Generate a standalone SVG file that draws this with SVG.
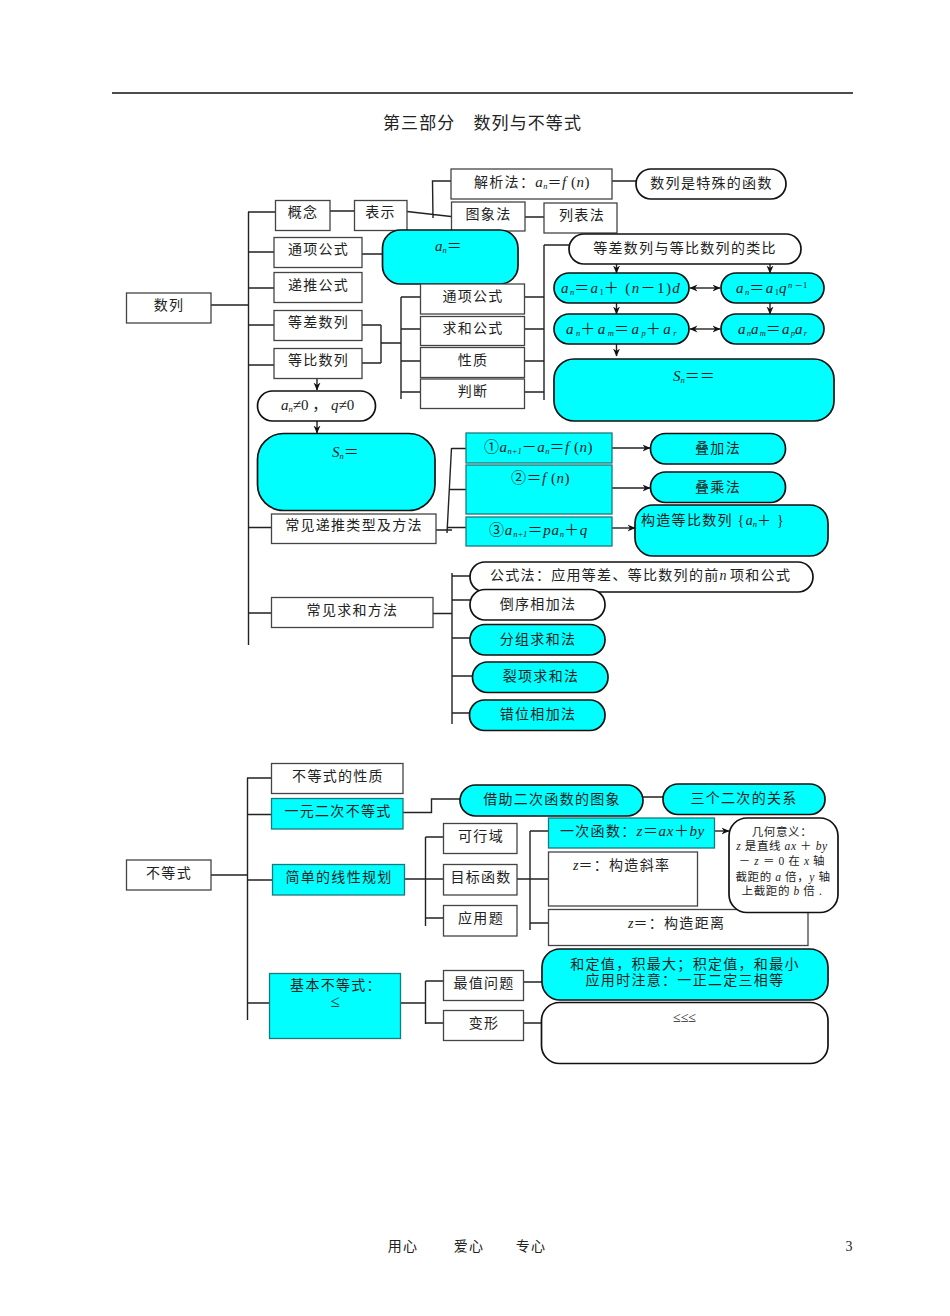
<svg xmlns="http://www.w3.org/2000/svg" width="950" height="1316" viewBox="0 0 950 1316">
<defs>
<marker id="arr" viewBox="0 0 8 8" refX="7.5" refY="4" markerWidth="8" markerHeight="8" markerUnits="userSpaceOnUse" orient="auto-start-reverse"><path d="M0,0.5 L8,4 L0,7.5 L2.5,4 Z" fill="#111"/></marker>
</defs>
<style>
text{font-family:"Liberation Serif","Noto Sans CJK SC",serif;font-size:14px;fill:#222;letter-spacing:1.3px}
.m{text-anchor:middle}
.b{fill:#fff;stroke:#444;stroke-width:1.3}
.bc{fill:#00ffff;stroke:#1a7a7a;stroke-width:1.3}
.p{fill:#fff;stroke:#111;stroke-width:1.7}
.pc{fill:#00ffff;stroke:#111;stroke-width:1.7}
.c path{fill:none;stroke:#222;stroke-width:1.4}
.a{marker-end:url(#arr)}
.d{marker-start:url(#arr);marker-end:url(#arr)}
.i{font-style:italic}
.s{font-size:8.5px;letter-spacing:0}
.t{font-size:11.5px;letter-spacing:.6px}
.n{letter-spacing:0}
.f{font-size:15px}
</style>
<rect width="950" height="1316" fill="#fff"/>
<path d="M112,93H853" stroke="#111" stroke-width="1.6" fill="none"/>
<text id="title" x="482.500" y="129" class="m" style="font-size:17px;letter-spacing:1.1px">第三部分　数列与不等式</text>

<g id="connectors" class="c">
<path d="M248.500,212V645M248,212H275M248,252H274M248,288H274M248,325H274M248,365H274M248,527.500H271M248,613H271M211,305H248"/>
<path d="M330,211H354M407,211.500L451,216.500M433,218L432.500,181H451M525,217H544M612,181H636M357,254H382"/>
<path d="M361,325H381M362,363H381M381,325V363M381,343H401M401,297V399M401,297H421M401,329H421M401,361H421M401,392H421"/>
<path d="M525,297H544M525,329H544M525,361H544M525,392H544M544,245V400M544,245H569"/>
<path class="a" d="M616.500,264V273"/><path class="a" d="M770,264V273"/><path class="a" d="M616.500,303V314"/><path class="a" d="M770,303V314"/><path class="a" d="M616.500,344V356"/>
<path class="d" d="M690,288H720"/><path class="d" d="M690,329H720"/>
<path class="a" d="M317,378V390"/><path class="a" d="M317,421V433"/>
<path d="M436,530H452M451.500,448L447,533M451.500,448.500H466M449,489.500H466M447,527.500H466"/>
<path class="a" d="M612,448H650"/><path class="a" d="M612,488H650"/><path class="a" d="M612,528H635"/>
<path d="M433,613.500H452M452,573V724M452,576H470M452,600H470M452,638H470M452,676H472M452,713H470"/>
<path d="M247.500,778V1020M247,778H271M247,814.500H271M247,880H272M247,1003H269M211,875H247"/>
<path d="M403,812.500H431.500V799H460M643,797H663"/>
<path d="M404,879H443M425.500,837V926M425.500,837H443M425.500,918H443"/>
<path d="M517,879H548M530,831V930M530,831H548M530,923H548"/>
<path class="a" d="M714,831H729"/>
<path d="M400,1003H425.500M425.500,981V1024M425.500,981H443M425.500,1023H443M523,982H542M523,1023H541"/>
</g>

<g id="n-shulie"><rect class="b" x="126.500" y="293" width="84.500" height="30"/><text x="169" y="310" class="m">数列</text></g>
<g id="n-gainian"><rect class="b" x="275.500" y="200.500" width="54.500" height="30"/><text x="303" y="217" class="m">概念</text></g>
<g id="n-biaoshi"><rect class="b" x="354.500" y="200.500" width="52.500" height="30"/><text x="380.500" y="217" class="m">表示</text></g>
<g id="n-jiexi"><rect class="b" x="451" y="169" width="161" height="30"/><text x="474" y="187">解析法：<tspan class="i f" style="letter-spacing:.5px">a</tspan><tspan class="i s" dy="2">n</tspan><tspan dy="-2" style="letter-spacing:.5px">＝</tspan><tspan class="i f" style="letter-spacing:.5px">f </tspan><tspan class="f" style="letter-spacing:.5px">(</tspan><tspan class="i f" style="letter-spacing:.5px">n</tspan><tspan class="f n">)</tspan></text></g>
<g id="n-tuxiang"><rect class="b" x="451.500" y="202" width="73.500" height="29"/><text x="488.500" y="219" class="m">图象法</text></g>
<g id="n-liebiao"><rect class="b" x="544" y="203" width="73" height="30"/><text x="582" y="220" class="m">列表法</text></g>
<g id="n-teshu"><rect class="p" x="636" y="169" width="150" height="30" rx="15"/><text x="711.500" y="188" class="m">数列是特殊的函数</text></g>
<g id="n-tx1"><rect class="b" x="274" y="237.500" width="88" height="30"/><text x="318.500" y="254" class="m">通项公式</text></g>
<g id="n-an"><rect class="pc" x="382.500" y="230" width="135.500" height="54" rx="18"/><text x="435" y="251" class="f"><tspan class="i n">a</tspan><tspan class="i s" dy="2">n</tspan><tspan dy="-2">＝</tspan></text></g>
<g id="n-dt"><rect class="b" x="274" y="272.500" width="88" height="30"/><text x="318.500" y="290" class="m">递推公式</text></g>
<g id="n-dc"><rect class="b" x="274" y="310.500" width="88" height="30"/><text x="318.500" y="327" class="m">等差数列</text></g>
<g id="n-db"><rect class="b" x="274" y="348.500" width="88" height="30"/><text x="318.500" y="365" class="m">等比数列</text></g>
<g id="n-neq"><rect class="p" x="257.500" y="391" width="118" height="30" rx="15"/><text x="281" y="410" class="f"><tspan class="i n">a</tspan><tspan class="i s" dy="2">n</tspan><tspan class="n" dy="-2">≠0 ，</tspan><tspan class="i n"> q</tspan><tspan class="n">≠0</tspan></text></g>
<g id="n-m1"><rect class="b" x="420.500" y="284" width="104" height="30"/><text x="473" y="301" class="m">通项公式</text></g>
<g id="n-m2"><rect class="b" x="420.500" y="316.500" width="104" height="29"/><text x="473" y="333" class="m">求和公式</text></g>
<g id="n-m3"><rect class="b" x="420.500" y="347.500" width="104" height="30"/><text x="473" y="365" class="m">性质</text></g>
<g id="n-m4"><rect class="b" x="420.500" y="379" width="104" height="29.500"/><text x="473" y="396" class="m">判断</text></g>
<g id="n-lb"><rect class="p" x="569" y="234" width="232" height="30" rx="15"/><text x="685" y="253" class="m">等差数列与等比数列的类比</text></g>
<g id="n-f1"><rect class="pc" x="554" y="273" width="135" height="30" rx="15"/><text x="561" y="293" class="f" style="letter-spacing:1.4px"><tspan class="i">a</tspan><tspan class="i s" dy="2">n</tspan><tspan dy="-2">＝</tspan><tspan class="i">a</tspan><tspan class="s" dy="2">1</tspan><tspan dy="-2">＋</tspan><tspan> (</tspan><tspan class="i">n</tspan><tspan>－</tspan><tspan>1)</tspan><tspan class="i">d</tspan></text></g>
<g id="n-f2"><rect class="pc" x="721" y="273" width="103" height="30" rx="15"/><text x="736" y="293" class="f" style="letter-spacing:1.5px"><tspan class="i">a</tspan><tspan class="i s" dy="2">n</tspan><tspan dy="-2">＝</tspan><tspan class="i">a</tspan><tspan class="s" dy="2">1</tspan><tspan class="i" dy="-2">q</tspan><tspan class="i s" dy="-5">n</tspan><tspan class="s"> －1</tspan></text></g>
<g id="n-f3"><rect class="pc" x="554" y="314" width="135" height="30" rx="15"/><text x="566" y="334" class="f" style="letter-spacing:2.5px"><tspan class="i">a</tspan><tspan class="i s" dy="2">n</tspan><tspan dy="-2">＋</tspan><tspan class="i">a</tspan><tspan class="i s" dy="2">m</tspan><tspan dy="-2">＝</tspan><tspan class="i">a</tspan><tspan class="i s" dy="2">p</tspan><tspan dy="-2">＋</tspan><tspan class="i">a</tspan><tspan class="i s" dy="2">r</tspan></text></g>
<g id="n-f4"><rect class="pc" x="721" y="314" width="103" height="30" rx="15"/><text x="738" y="334" class="f" style="letter-spacing:1.2px"><tspan class="i">a</tspan><tspan class="i s" dy="2">n</tspan><tspan class="i" dy="-2">a</tspan><tspan class="i s" dy="2">m</tspan><tspan dy="-2">＝</tspan><tspan class="i">a</tspan><tspan class="i s" dy="2">p</tspan><tspan class="i" dy="-2">a</tspan><tspan class="i s" dy="2">r</tspan></text></g>
<g id="n-sn1"><rect class="pc" x="554" y="359" width="280" height="62" rx="20"/><text x="673" y="381" class="f" style="letter-spacing:0"><tspan class="i">S</tspan><tspan class="i s" dy="2">n</tspan><tspan dy="-2">＝＝</tspan></text></g>
<g id="n-sn2"><rect class="pc" x="257.500" y="433.500" width="177.500" height="77" rx="26"/><text x="332" y="457" class="f" style="letter-spacing:0"><tspan class="i">S</tspan><tspan class="i s" dy="2">n</tspan><tspan dy="-2">＝</tspan></text></g>
<g id="n-r1"><rect class="bc" x="466" y="433" width="146" height="30"/><text x="484" y="452" class="f" style="letter-spacing:.5px">①<tspan class="i">a</tspan><tspan class="i s" dy="2">n+1</tspan><tspan dy="-2">－</tspan><tspan class="i">a</tspan><tspan class="i s" dy="2">n</tspan><tspan dy="-2">＝</tspan><tspan class="i">f </tspan>(<tspan class="i">n</tspan>)</text></g>
<g id="n-r2"><rect class="bc" x="466" y="465" width="146" height="49"/><text x="511" y="483" class="f" style="letter-spacing:.5px">②＝<tspan class="i">f </tspan>(<tspan class="i">n</tspan>)</text></g>
<g id="n-r3"><rect class="bc" x="466" y="517" width="146" height="29"/><text x="489" y="535" class="f" style="letter-spacing:.8px">③<tspan class="i">a</tspan><tspan class="i s" dy="2">n+1</tspan><tspan dy="-2">＝</tspan><tspan class="i">pa</tspan><tspan class="i s" dy="2">n</tspan><tspan dy="-2">＋</tspan><tspan class="i">q</tspan></text></g>
<g id="n-s1"><rect class="pc" x="650.500" y="433.500" width="135" height="30.500" rx="15"/><text x="718" y="453" class="m">叠加法</text></g>
<g id="n-s2"><rect class="pc" x="650.500" y="472" width="135" height="30.500" rx="15"/><text x="718" y="492" class="m">叠乘法</text></g>
<g id="n-s3"><rect class="pc" x="635" y="505" width="193" height="51" rx="18"/><text x="641" y="525">构造等比数列 {<tspan class="i n">a</tspan><tspan class="i s" dy="2">n</tspan><tspan dy="-2">＋ }</tspan></text></g>
<g id="n-cj"><rect class="b" x="271.500" y="514" width="164.500" height="29.500"/><text x="354" y="530" class="m">常见递推类型及方法</text></g>
<g id="n-qh"><rect class="b" x="271.500" y="597.500" width="161.500" height="30"/><text x="352.500" y="615" class="m">常见求和方法</text></g>
<g id="n-q1"><rect class="p" x="470" y="562" width="343" height="30" rx="15"/><text x="490" y="580">公式法：应用等差、等比数列的前<tspan class="i n">n </tspan>项和公式</text></g>
<g id="n-q2"><rect class="p" x="470" y="589.500" width="135" height="30.500" rx="15"/><text x="538" y="609" class="m">倒序相加法</text></g>
<g id="n-q3"><rect class="pc" x="470" y="624.500" width="135" height="30.500" rx="15"/><text x="538" y="644" class="m">分组求和法</text></g>
<g id="n-q4"><rect class="pc" x="472.500" y="662" width="135.500" height="30.500" rx="15"/><text x="541" y="681" class="m">裂项求和法</text></g>
<g id="n-q5"><rect class="pc" x="469.500" y="700" width="135.500" height="30.500" rx="15"/><text x="538" y="719" class="m">错位相加法</text></g>

<g id="n-bdsh"><rect class="b" x="126.500" y="860" width="84.500" height="30"/><text x="169" y="878" class="m">不等式</text></g>
<g id="n-xz"><rect class="b" x="271.500" y="763.500" width="131.500" height="30"/><text x="338" y="781" class="m">不等式的性质</text></g>
<g id="n-yy"><rect class="bc" x="271.500" y="798.500" width="131.500" height="30.500"/><text x="338" y="816" class="m">一元二次不等式</text></g>
<g id="n-jd"><rect class="bc" x="272.500" y="864.500" width="132" height="30.500"/><text x="339" y="882" class="m">简单的线性规划</text></g>
<g id="n-jb"><rect class="bc" x="269.500" y="973.500" width="131" height="65"/><text x="336" y="990" class="m">基本不等式：</text><text x="335" y="1007" class="m" style="font-size:17px;letter-spacing:0">≤</text></g>
<g id="n-kx"><rect class="b" x="443.500" y="823.500" width="73.500" height="30"/><text x="481" y="841" class="m">可行域</text></g>
<g id="n-mb"><rect class="b" x="443.500" y="864.500" width="73.500" height="30.500"/><text x="481" y="882" class="m">目标函数</text></g>
<g id="n-yt"><rect class="b" x="443.500" y="905.500" width="73.500" height="30.500"/><text x="481" y="923" class="m">应用题</text></g>
<g id="n-zz"><rect class="b" x="443.500" y="970.500" width="80" height="30"/><text x="484" y="988" class="m">最值问题</text></g>
<g id="n-bx"><rect class="b" x="443.500" y="1010.500" width="80" height="30"/><text x="484" y="1028" class="m">变形</text></g>
<g id="n-jz"><rect class="pc" x="460" y="785" width="183" height="31" rx="15.500"/><text x="552" y="804" class="m">借助二次函数的图象</text></g>
<g id="n-sg"><rect class="pc" x="663" y="784" width="162" height="30.500" rx="15"/><text x="744" y="803" class="m">三个二次的关系</text></g>
<g id="n-yc"><rect class="bc" x="548.500" y="818" width="166" height="30"/><text x="560" y="836">一次函数：<tspan class="i f" style="letter-spacing:.6px">z</tspan><tspan class="f" style="letter-spacing:.6px">＝</tspan><tspan class="i f" style="letter-spacing:.6px">ax</tspan><tspan class="f" style="letter-spacing:.6px">＋</tspan><tspan class="i f" style="letter-spacing:.6px">by</tspan></text></g>
<g id="n-xl"><rect class="b" x="548.500" y="852" width="149" height="54"/><text x="573" y="870"><tspan class="i n">z</tspan>＝：构造斜率</text></g>
<g id="n-jl"><rect class="b" x="548.500" y="909.500" width="259.500" height="36"/><text x="628" y="928"><tspan class="i n">z</tspan>＝：构造距离</text></g>
<g id="n-jh"><rect class="p" x="729" y="818" width="109" height="94.500" rx="18"/>
<text x="782" y="836" class="m t">几何意义：</text>
<text x="782" y="850" class="m t"><tspan class="i">z </tspan>是直线 <tspan class="i">ax </tspan>＋ <tspan class="i">by</tspan></text>
<text x="782" y="865" class="m t">－ <tspan class="i">z </tspan>＝ 0 在 <tspan class="i">x </tspan>轴</text>
<text x="783" y="881" class="m t">截距的 <tspan class="i">a </tspan>倍，<tspan class="i">y </tspan>轴</text>
<text x="782" y="895" class="m t">上截距的 <tspan class="i">b </tspan>倍 .</text></g>
<g id="n-hd"><rect class="pc" x="542" y="949" width="286" height="51" rx="18"/><text x="685" y="969" class="m">和定值，积最大；积定值，和最小</text><text x="685" y="985" class="m">应用时注意：一正二定三相等</text></g>
<g id="n-le"><rect class="p" x="541.500" y="1002.500" width="286.500" height="61" rx="18"/><text x="684.500" y="1022" class="m" style="font-size:14px;letter-spacing:0">≤≤≤</text></g>

<text id="f1" x="403" y="1251" class="m">用心</text>
<text id="f2" x="469" y="1251" class="m">爱心</text>
<text id="f3" x="531" y="1251" class="m">专心</text>
<text id="page" x="849" y="1251" class="m n">3</text>
</svg>
